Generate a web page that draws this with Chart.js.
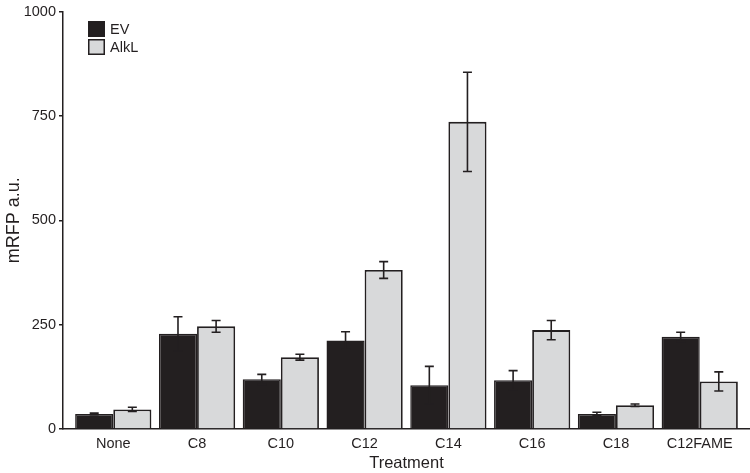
<!DOCTYPE html>
<html>
<head>
<meta charset="utf-8">
<script src="https://cdn.jsdelivr.net/npm/chart.js@4"></script>
<style>
  body { margin: 0; background: #fff; }
  #wrap { width: 750px; height: 473px; }
</style>
</head>
<body>
<div id="wrap"><canvas id="chart"></canvas></div>
<script>
// values
const categories = ['None', 'C8', 'C10', 'C12', 'C14', 'C16', 'C18', 'C12FAME'];
const evMeans   = [36, 228, 119, 212, 105, 117, 36, 221];
const evErrors  = [2, 41, 12, 21, 45, 23, 4, 11];
const alkMeans  = [47, 246, 172, 381, 736, 237, 57, 114];
const alkErrors = [5, 14, 7, 20, 119, 23, 3, 23];
const yTicks = [0, 250, 500, 750, 1000];

const ink = '#231f20';
const grey = '#d8d9da';
const font = 'Liberation Sans, Arial, Helvetica, sans-serif';

var toPoints = (vals) => vals.map((v, i) => ({ x: i, y: v }));

var errorBars = {
  id: 'errorBars',
  afterDatasetsDraw(chart) {
    const ctx = chart.ctx;
    const y = chart.scales.y;
    const errs = [evErrors, alkErrors];
    ctx.save();
    ctx.strokeStyle = ink;
    ctx.lineWidth = 1.6;
    chart.data.datasets.forEach((ds, d) => {
      const meta = chart.getDatasetMeta(d);
      meta.data.forEach((bar, i) => {
        const v = ds.data[i].y;
        const e = errs[d][i];
        const top = y.getPixelForValue(v + e);
        const bot = y.getPixelForValue(v - e);
        ctx.beginPath();
        ctx.moveTo(bar.x, top); ctx.lineTo(bar.x, bot);
        ctx.moveTo(bar.x - 4.5, top); ctx.lineTo(bar.x + 4.5, top);
        ctx.moveTo(bar.x - 4.5, bot); ctx.lineTo(bar.x + 4.5, bot);
        ctx.stroke();
      });
    });
    ctx.restore();
  }
};

var legendBox = {
  id: 'legendBox',
  afterDraw(chart) {
    const ctx = chart.ctx;
    ctx.save();
    ctx.font = '14.5px ' + font;
    ctx.textBaseline = 'middle';
    chart.data.datasets.forEach((ds, d) => {
      const bx = 88, by = 21 + d * 18;
      ctx.fillStyle = ds.backgroundColor;
      ctx.fillRect(bx, by, 17, 16);
      ctx.strokeStyle = ink;
      ctx.lineWidth = 1.5;
      ctx.strokeRect(bx + 0.75, by + 0.75, 15.5, 14.5);
      ctx.fillStyle = ink;
      ctx.fillText(ds.label, 110, by + 8.5);
    });
    ctx.restore();
  }
};

new Chart(document.getElementById('chart'), {
  type: 'bar',
  data: {
    datasets: [
      {
        label: 'EV',
        data: toPoints(evMeans),
        backgroundColor: ink,
        borderColor: ink,
        borderWidth: 1.5,
        barPercentage: 1,
        categoryPercentage: 0.91
      },
      {
        label: 'AlkL',
        data: toPoints(alkMeans),
        backgroundColor: grey,
        borderColor: ink,
        borderWidth: 1.8,
        barPercentage: 1,
        categoryPercentage: 0.91
      }
    ]
  },
  options: {
    responsive: true,
    maintainAspectRatio: false,
    animation: false,
    layout: { padding: { top: 8, right: 0, left: 0, bottom: 0 } },
    plugins: {
      legend: { display: false },
      tooltip: { enabled: false }
    },
    scales: {
      x: {
        type: 'linear',
        offset: false,
        min: -0.6,
        max: 7.6,
        afterBuildTicks: (scale) => { scale.ticks = categories.map((c, i) => ({ value: i })); },
        afterFit: (scale) => { scale.height = 44; },
        grid: { display: false, drawTicks: false, tickLength: 0 },
        border: { display: true, color: ink, width: 1.5 },
        ticks: {
          padding: 6,
          color: ink,
          font: { family: font, size: 14.5 },
          maxRotation: 0,
          autoSkip: false,
          callback: (v) => categories[v]
        },
        title: {
          display: true,
          text: 'Treatment',
          color: ink,
          font: { family: font, size: 16.5 },
          padding: { top: 0, bottom: 0 }
        }
      },
      y: {
        min: 0,
        max: 1000,
        afterBuildTicks: (scale) => { scale.ticks = yTicks.map((v) => ({ value: v })); },
        afterFit: (scale) => { scale.width = 63; },
        grid: {
          drawOnChartArea: false,
          drawTicks: true,
          tickLength: 4,
          color: ink,
          lineWidth: 1.5
        },
        border: { display: true, color: ink, width: 1.5 },
        ticks: {
          padding: 3,
          color: ink,
          font: { family: font, size: 14.5 },
          callback: (v) => String(v)
        },
        title: {
          display: true,
          text: 'mRFP a.u.',
          color: ink,
          font: { family: font, size: 18 },
          padding: { top: 3, bottom: 0 }
        }
      }
    }
  },
  plugins: [errorBars, legendBox]
});
</script>
</body>
</html>
